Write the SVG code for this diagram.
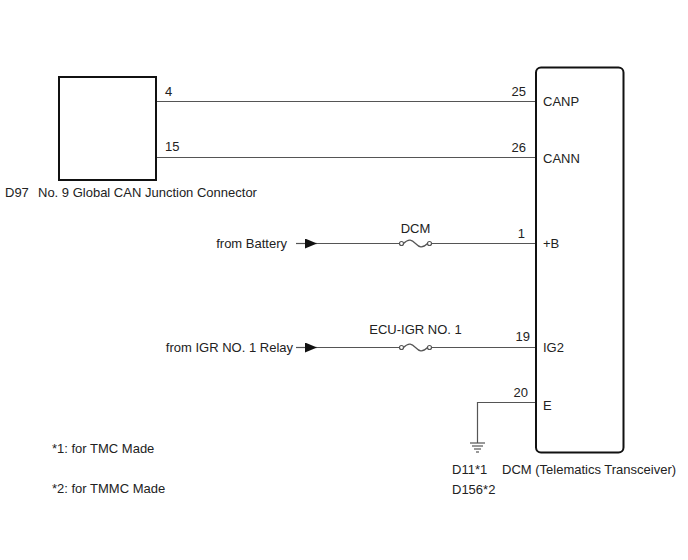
<svg xmlns="http://www.w3.org/2000/svg" width="688" height="560" viewBox="0 0 688 560">
<style>
text{font-family:"Liberation Sans",Arial,sans-serif;font-size:13px;fill:#222}
.w{stroke:#555;stroke-width:1.2;fill:none}
.box{fill:#fff;stroke:#111;stroke-width:2}
.m{text-anchor:middle}
.e{text-anchor:end}
</style>
<defs>
<marker id="arr" viewBox="0 0 12 10" refX="12" refY="5" markerWidth="12" markerHeight="10" markerUnits="userSpaceOnUse" orient="auto">
<path d="M0,0L12,5L0,10z" fill="#111"/>
</marker>
</defs>
<rect width="688" height="560" fill="#fff"/>
<g id="connectors">
<line class="w" x1="156" y1="101.5" x2="536" y2="101.5"/>
<line class="w" x1="156" y1="157.5" x2="536" y2="157.5"/>
<line class="w" x1="296" y1="243.5" x2="317" y2="243.5" marker-end="url(#arr)"/>
<line class="w" x1="317" y1="243.5" x2="400" y2="243.5"/>
<path class="w" d="M403.5,243.5 C409,238 412,240 415.5,243.5 S422,249 427.5,243.5"/>
<circle class="w" cx="401.5" cy="243.5" r="2" fill="#fff"/>
<circle class="w" cx="429.5" cy="243.5" r="2" fill="#fff"/>
<line class="w" x1="431.5" y1="243.5" x2="536" y2="243.5"/>
<line class="w" x1="296" y1="347.5" x2="317" y2="347.5" marker-end="url(#arr)"/>
<line class="w" x1="317" y1="347.5" x2="400" y2="347.5"/>
<path class="w" d="M403.5,347.5 C409,342 412,344 415.5,347.5 S422,353 427.5,347.5"/>
<circle class="w" cx="401.5" cy="347.5" r="2" fill="#fff"/>
<circle class="w" cx="429.5" cy="347.5" r="2" fill="#fff"/>
<line class="w" x1="431.5" y1="347.5" x2="536" y2="347.5"/>
<polyline class="w" points="536,402.5 477.5,402.5 477.5,443"/>
<line class="w" x1="470" y1="443" x2="485" y2="443" stroke-width="1.5"/>
<line class="w" x1="472" y1="446" x2="483" y2="446"/>
<line class="w" x1="474" y1="449" x2="481" y2="449"/>
<line class="w" x1="476" y1="452" x2="479" y2="452"/>
</g>
<g id="D97">
<rect class="box" x="59" y="77" width="97" height="103"/>
<text x="5" y="197">D97</text>
<text x="38" y="197">No. 9 Global CAN Junction Connector</text>
<text x="165" y="96">4</text>
<text x="165" y="151">15</text>
</g>
<g id="DCM">
<rect class="box" x="536" y="67.5" width="87.5" height="385" rx="5"/>
<text class="e" x="526" y="96">25</text>
<text x="543" y="106">CANP</text>
<text class="e" x="526" y="152">26</text>
<text x="543" y="163">CANN</text>
<text class="e" x="525" y="238">1</text>
<text x="543" y="248">+B</text>
<text class="e" x="530" y="341">19</text>
<text x="543" y="352">IG2</text>
<text class="e" x="528" y="397">20</text>
<text x="543" y="410">E</text>
<text x="502" y="474">DCM (Telematics Transceiver)</text>
</g>
<g id="labels">
<text class="e" x="287" y="248">from Battery</text>
<text class="e" x="293" y="352">from IGR NO. 1 Relay</text>
<text class="m" x="415.5" y="233">DCM</text>
<text class="m" x="415.5" y="334">ECU-IGR NO. 1</text>
<text x="452" y="474">D11*1</text>
<text x="452" y="494">D156*2</text>
<text x="52" y="453">*1: for TMC Made</text>
<text x="52" y="493">*2: for TMMC Made</text>
</g>
</svg>
